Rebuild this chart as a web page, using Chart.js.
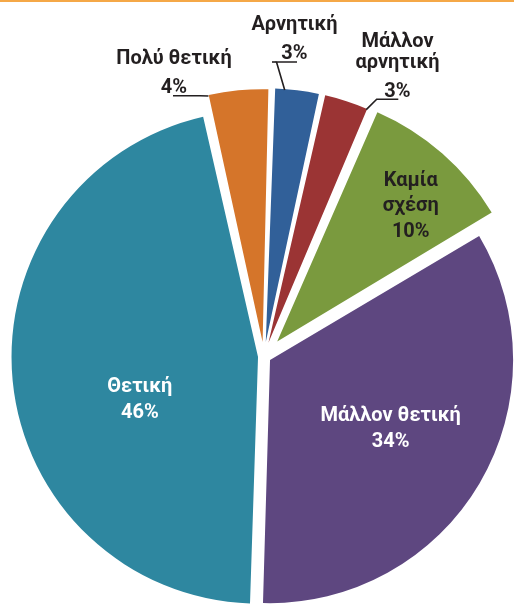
<!DOCTYPE html>
<html>
<head>
<meta charset="utf-8">
<script src="https://cdn.jsdelivr.net/npm/chart.js@4"></script>
<style>
  html, body { margin: 0; padding: 0; background: #ffffff; }
  #wrap { position: relative; width: 514px; height: 604px; overflow: hidden; }
  #topline { position: absolute; left: 0; top: 0; width: 514px; height: 2px; background: #f5a847; z-index: 2; }
  canvas { display: block; }
</style>
</head>
<body>
<div id="wrap">
  <div id="topline"></div>
  <canvas id="c" width="514" height="604"></canvas>
</div>
<script>
// ---- data ----
const categories = ['Αρνητική', 'Μάλλον αρνητική', 'Καμία σχέση', 'Μάλλον θετική', 'Θετική', 'Πολύ θετική'];
const values = [3, 3, 10, 34, 46, 4];

// ---- styles ----
const sliceColors = ['#316099', '#9b3434', '#7a9a3e', '#5e4780', '#2e87a0', '#d5752a'];
const sliceOffsets = [58, 58, 80, 28, 24, 58];
const FONT = 'bold 20px Roboto, "Noto Sans", sans-serif';
const DARK = '#231f20';

// label layout (text placement only)
const labelLayout = [
  { type: 'outer', lines: ['Αρνητική'], frac: 0.24, elbow: [276.5, 62], end: [297, 62], tail: [272, 62], textX: 294.5, baselines: [30, 59] },
  { type: 'outer', lines: ['Μάλλον', 'αρνητική'], frac: 0.95, elbow: [376.7, 99.3], end: [398.3, 99.3], textX: 397.5, baselines: [47, 68, 97] },
  { type: 'inner', lines: ['Καμία', 'σχέση'], frac: 0.594, rf: 0.759, color: DARK, lh: 25.5 },
  { type: 'inner', lines: ['Μάλλον θετική'], frac: 0.493, rf: 0.571, color: '#ffffff', lh: 26 },
  { type: 'inner', lines: ['Θετική'], frac: 0.413, rf: 0.51, color: '#ffffff', lh: 26 },
  { type: 'outer', lines: ['Πολύ θετική'], frac: 0.02, elbow: [200, 95.7], end: [173, 95.7], textX: 174, baselines: [64, 93] }
];

function arcGeom(arc) {
  const p = arc.getProps(['x', 'y', 'startAngle', 'endAngle', 'outerRadius', 'circumference'], true);
  const t = (arc.options.offset || 0) / 4;
  const mid = (p.startAngle + p.endAngle) / 2;
  const fix = 1 - Math.sin(Math.min(Math.PI, p.circumference || 0));
  return {
    cx: p.x + Math.cos(mid) * t,
    cy: p.y + Math.sin(mid) * t,
    r: p.outerRadius + t * fix,
    start: p.startAngle,
    end: p.endAngle
  };
}

const sliceLabels = {
  id: 'sliceLabels',
  afterDatasetsDraw(chart) {
    const ctx = chart.ctx;
    const meta = chart.getDatasetMeta(0);
    ctx.save();
    ctx.font = FONT;
    ctx.textAlign = 'center';
    meta.data.forEach((arc, i) => {
      const L = labelLayout[i];
      const g = arcGeom(arc);
      const lines = L.lines.concat([values[i] + '%']);
      if (L.type === 'inner') {
        const a = g.start + L.frac * (g.end - g.start);
        const px = g.cx + Math.cos(a) * g.r * L.rf;
        const py = g.cy + Math.sin(a) * g.r * L.rf;
        ctx.fillStyle = L.color;
        ctx.textBaseline = 'middle';
        const n = lines.length;
        lines.forEach((s, k) => {
          ctx.fillText(s, px, py + (k - (n - 1) / 2) * L.lh);
        });
      } else {
        const a = g.start + L.frac * (g.end - g.start);
        const ax = g.cx + Math.cos(a) * (g.r - 1);
        const ay = g.cy + Math.sin(a) * (g.r - 1);
        ctx.strokeStyle = DARK;
        ctx.lineWidth = 1.6;
        ctx.beginPath();
        ctx.moveTo(ax, ay);
        ctx.lineTo(L.elbow[0], L.elbow[1]);
        ctx.lineTo(L.end[0], L.end[1]);
        ctx.stroke();
        if (L.tail) {
          ctx.beginPath();
          ctx.moveTo(L.elbow[0], L.elbow[1]);
          ctx.lineTo(L.tail[0], L.tail[1]);
          ctx.stroke();
        }
        ctx.fillStyle = DARK;
        ctx.textBaseline = 'alphabetic';
        lines.forEach((s, k) => {
          ctx.fillText(s, L.textX, L.baselines[k]);
        });
      }
    });
    ctx.restore();
  }
};

new Chart(document.getElementById('c'), {
  type: 'pie',
  data: {
    labels: categories,
    datasets: [{
      data: values,
      backgroundColor: sliceColors,
      borderWidth: 0,
      offset: sliceOffsets,
      hoverOffset: 0,
      clip: false
    }]
  },
  options: {
    responsive: false,
    animation: false,
    devicePixelRatio: 1,
    rotation: 1.7,
    radius: 242,
    layout: { padding: { left: 14, right: 0, top: 109, bottom: 0 } },
    plugins: {
      legend: { display: false },
      tooltip: { enabled: false }
    },
    events: []
  },
  plugins: [sliceLabels]
});
</script>
</body>
</html>
